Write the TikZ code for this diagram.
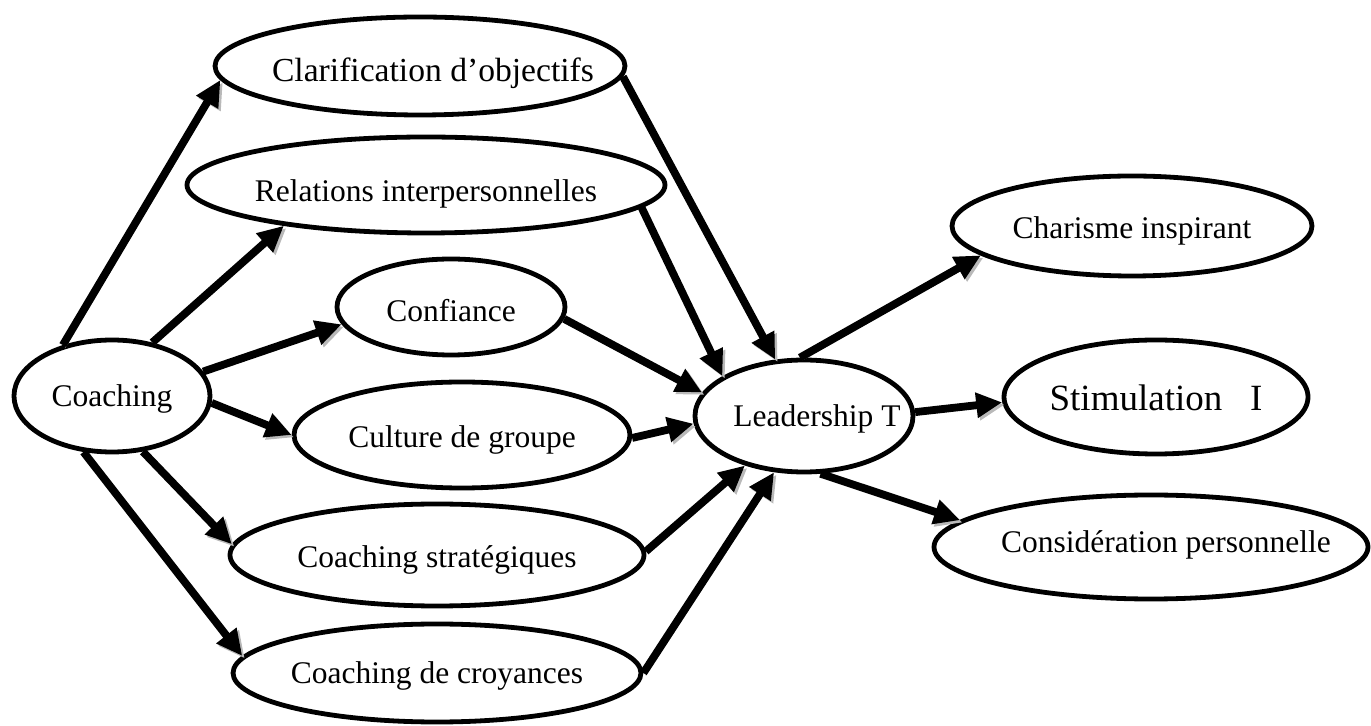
\documentclass[tikz,border=0pt]{standalone}
\usepackage{fontspec}
\setmainfont{Liberation Serif}
\usetikzlibrary{shapes.geometric, arrows.meta}

\tikzset{
  bubble/.style={draw, ellipse, line width=2.4pt, inner sep=0pt, fill=white,
    text height=15.5pt, text depth=3pt, font=\fontsize{15.75}{18}\selectfont},
  link/.style={line width=3.9pt, -{Triangle[length=13pt,width=12pt]},
    preaction={draw=gray!55, transform canvas={shift={(1.2pt,-1.2pt)}}}},
}

\begin{document}
\begin{tikzpicture}[x=0.5pt, y=-0.5pt]
    \useasboundingbox (0,0) rectangle (1371,726);

    % Left side
    \node[bubble, minimum width=98pt, minimum height=56pt, text height=13.5pt] (coach) at (112,396) {\makebox[0pt]{Coaching}};

    % Middle column
    \node[bubble, minimum width=205pt, minimum height=49pt, text height=19pt, font=\fontsize{16.8}{19}\selectfont] (clar) at (420,66) {\makebox[0pt]{\hspace{13pt}Clarification d'objectifs}};
    \node[bubble, minimum width=239pt, minimum height=48pt, text height=20pt] (rel) at (426,185) {\makebox[0pt]{Relations interpersonnelles}};
    \node[bubble, minimum width=114pt, minimum height=48pt, text height=18pt] (conf) at (451,307) {\makebox[0pt]{Confiance}};
    \node[bubble, minimum width=168pt, minimum height=53pt] (cult) at (462,435) {\makebox[0pt]{Culture de groupe}};
    \node[bubble, minimum width=207pt, minimum height=51pt, text height=16pt] (strat) at (437,555) {\makebox[0pt]{Coaching stratégiques}};
    \node[bubble, minimum width=204pt, minimum height=49pt, text height=13pt] (croy) at (437,673) {\makebox[0pt]{Coaching de croyances}};

    % Leadership
    \node[bubble, minimum width=109pt, minimum height=56pt, text height=14pt] (lead) at (804,416) {\makebox[0pt]{\hspace{13pt}Leadership T}};

    % Right side
    \node[bubble, minimum width=180pt, minimum height=50pt] (char) at (1132,226) {\makebox[0pt]{Charisme inspirant}};
    \node[bubble, minimum width=152pt, minimum height=57pt, text height=17pt, font=\fontsize{18.5}{21}\selectfont] (stim) at (1156,397) {\makebox[0pt]{Stimulation\hspace{0.75em}I}};
    \node[bubble, minimum width=217pt, minimum height=52pt, text height=9pt] (cons) at (1151,547) {\makebox[0pt]{\hspace{15pt}Considération personnelle}};

    \draw[link] (coach.134) -- (clar.184);
    \draw[link] (coach.53) -- (rel.196);
    \draw[link] (coach.15) -- (conf.189);
    \draw[link] (coach.-4) -- (cult.180);
    \draw[link] (coach.-61) -- (strat.177);
    \draw[link] (coach.-117) -- (croy.175);

    \draw[link] (clar.-3) -- (lead.117);
    \draw[link] (rel.-6) -- (lead.154);
    \draw[link] (conf.-6) -- (lead.167);
    \draw[link] (cult.-1) -- (lead.184);
    \draw[link] (strat.1) -- (lead.220);
    \draw[link] (croy.0) -- (lead.242);

    \draw[link] (lead.94) -- (char.191);
    \draw[link] (lead.2) -- (stim.182);
    \draw[link] (lead.-74) -- (cons.172);
\end{tikzpicture}
\end{document}
